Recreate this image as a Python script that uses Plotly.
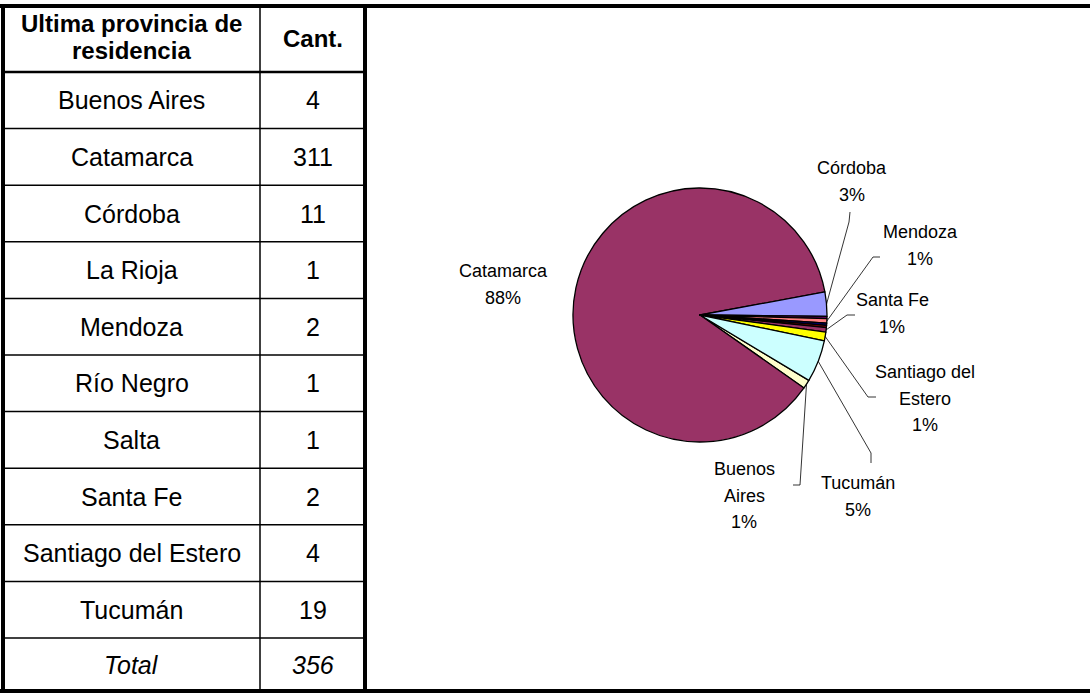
import math
import plotly.graph_objects as go

provinces = ["Buenos Aires", "Catamarca", "Córdoba", "La Rioja", "Mendoza",
             "Río Negro", "Salta", "Santa Fe", "Santiago del Estero", "Tucumán"]
counts = [4, 311, 11, 1, 2, 1, 1, 2, 4, 19]
total_label = "Total"
total_count = 356
header_labels = ["Ultima provincia de", "residencia", "Cant."]

slice_colors = ["#FFFFCC", "#993366", "#9999FF", "#660066", "#FF8080",
                "#000080", "#800000", "#993366", "#FFFF00", "#CCFFFF"]

# percentages as printed on the chart
labeled = ["Catamarca", "Córdoba", "Mendoza", "Santa Fe",
           "Santiago del Estero", "Tucumán", "Buenos Aires"]
labeled_pct = ["88%", "3%", "1%", "1%", "1%", "5%", "1%"]

W, H = 1090, 695
FONT = "Liberation Sans, Arial, sans-serif"

# pie geometry (pixels)
cx, cy, R = 700, 315, 127
rotation = 121

fig = go.Figure()
fig.add_trace(go.Pie(
    labels=provinces, values=counts, sort=False, direction="clockwise",
    rotation=rotation, textinfo="none", hoverinfo="label+value+percent",
    marker=dict(colors=slice_colors, line=dict(color="black", width=1.3)),
    domain=dict(x=[(cx - R) / W, (cx + R) / W], y=[1 - (cy + R) / H, 1 - (cy - R) / H]),
    showlegend=False,
))

shapes = []
annotations = []


def text(x, y, s, size, **kw):
    annotations.append(dict(x=x, y=y, xref="x", yref="y", text=s, showarrow=False,
                            xanchor="center", yanchor="middle",
                            font=dict(family=FONT, size=size, color="black"), **kw))


def line(x0, y0, x1, y1, w):
    shapes.append(dict(type="line", xref="x", yref="y", x0=x0, y0=y0, x1=x1, y1=y1,
                       line=dict(color="black", width=w)))


# ---- table ----
col_x = [3, 260, 365]
top, head_bot, bottom = 6, 72, 691
row_h = 56.6
n = len(provinces)
for i in range(n + 1):
    y = head_bot + i * row_h
    line(col_x[0], y, col_x[2], y, 2.5 if i == 0 else 1.5)
line(col_x[1], top, col_x[1], bottom, 1.5)
line(col_x[0], top - 2, col_x[0], bottom + 2, 4)
line(col_x[2], top - 2, col_x[2], bottom + 2, 4)
line(0, top, W, top, 4)
line(0, bottom, W, bottom, 4)

TS = 25
c1 = (col_x[0] + col_x[1]) / 2
c2 = (col_x[1] + col_x[2]) / 2
text(c1, 23, "<b>" + header_labels[0] + "</b>", 24)
text(c1, 50, "<b>" + header_labels[1] + "</b>", 24)
text(c2, 38, "<b>" + header_labels[2] + "</b>", 24)
for i, (p, c) in enumerate(zip(provinces, counts)):
    ym = head_bot + (i + 0.5) * row_h
    text(c1, ym, p, TS)
    text(c2, ym, str(c), TS)
ym = (head_bot + n * row_h + bottom) / 2
text(c1, ym, "<i>" + total_label + "</i>", TS)
text(c2, ym, "<i>" + str(total_count) + "</i>", TS)

# ---- pie labels with leader lines ----
tot = sum(counts)
mid_angle = {}
cum = 0
for p, v in zip(provinces, counts):
    mid_angle[p] = rotation + (cum + v / 2) / tot * 360
    cum += v

# label placement: text center x, first line y, leader elbow, leader tail
label_pos = {
    "Catamarca": (503, 271, None, None),
    "Córdoba": (852, 168, (849, 222), (850, 212)),
    "Mendoza": (920, 232, (873, 257), (880, 257)),
    "Santa Fe": (892, 300, (847, 315), (855, 315)),
    "Santiago del Estero": (925, 372, (868, 397), (876, 397)),
    "Tucumán": (858, 483, (871, 453), (871, 463)),
    "Buenos Aires": (744, 469, (800, 485), (793, 485)),
}
line_breaks = {"Santiago del Estero": ["Santiago del", "Estero"],
               "Buenos Aires": ["Buenos", "Aires"]}
LS = 18
pitch = 26.5
for p, pct in zip(labeled, labeled_pct):
    tx, ty, elbow, tail = label_pos[p]
    lines = line_breaks.get(p, [p]) + [pct]
    for k, s in enumerate(lines):
        text(tx, ty + k * pitch, s, LS)
    if elbow:
        a = math.radians(mid_angle[p])
        ex, ey = cx + R * math.sin(a), cy - R * math.cos(a)
        shapes.append(dict(type="path", xref="x", yref="y",
                           path=f"M {ex:.1f},{ey:.1f} L {elbow[0]},{elbow[1]} L {tail[0]},{tail[1]}",
                           line=dict(color="black", width=0.8)))

fig.update_layout(
    width=W, height=H, margin=dict(l=0, r=0, t=0, b=0),
    paper_bgcolor="white", plot_bgcolor="rgba(0,0,0,0)",
    xaxis=dict(range=[0, W], visible=False, domain=[0, 1], fixedrange=True),
    yaxis=dict(range=[H, 0], visible=False, domain=[0, 1], fixedrange=True),
    shapes=shapes, annotations=annotations,
)
fig.write_html("out.html", config={"displayModeBar": False},
               post_script="document.body.style.margin = '0px';")
